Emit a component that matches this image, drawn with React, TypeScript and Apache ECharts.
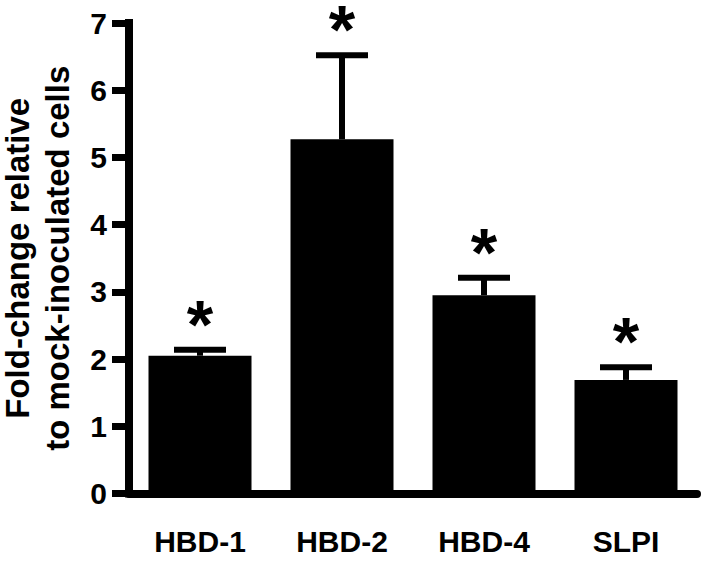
import React, { useEffect, useRef } from "react";
import * as echarts from "echarts";

const categories = ["HBD-1", "HBD-2", "HBD-4", "SLPI"];
const means = [2.05, 5.27, 2.95, 1.69];
const upper = [2.14, 6.52, 3.21, 1.88];
const marks = ["*", "*", "*", "*"];
const yTicks = [0, 1, 2, 3, 4, 5, 6, 7];

const FONT = "'Liberation Sans', Arial, sans-serif";

export default function App() {
  const ref = useRef<HTMLDivElement>(null);
  useEffect(() => {
    if (!ref.current) return;
    const chart = echarts.init(ref.current, null, { renderer: "svg" });
    const errData = categories.map((c, i) => [i, means[i], upper[i]]);
    chart.setOption({
      animation: false,
      grid: { left: 129, right: 7, top: 23, bottom: 69.5, containLabel: false, outerBoundsMode: "none" },
      xAxis: {
        type: "category",
        data: categories,
        axisLine: { lineStyle: { color: "#000", width: 8 } },
        axisTick: { alignWithLabel: true, length: 16, lineStyle: { color: "#000", width: 7 } },
        axisLabel: { color: "#000", fontFamily: FONT, fontWeight: "bold", fontSize: 30, margin: 33 },
      },
      yAxis: {
        type: "value",
        min: yTicks[0],
        max: yTicks[yTicks.length - 1],
        interval: 1,
        splitLine: { show: false },
        axisLine: { show: true, lineStyle: { color: "#000", width: 8, cap: "square" } },
        axisTick: { show: true, length: 17, lineStyle: { color: "#000", width: 7 } },
        axisLabel: { color: "#000", fontFamily: FONT, fontWeight: "bold", fontSize: 30, margin: 22 },
        name: "Fold-change relative\nto mock-inoculated cells",
        nameLocation: "middle",
        nameRotate: 90,
        nameGap: 52,
        nameTextStyle: { color: "#000", fontFamily: FONT, fontWeight: "bold", fontSize: 33, lineHeight: 40 },
      },
      series: [
        {
          type: "bar",
          data: means,
          barWidth: 103,
          itemStyle: { color: "#000" },
        },
        {
          type: "custom",
          data: errData,
          renderItem: (params: any, api: any) => {
            const x = api.value(0);
            const top = api.coord([x, api.value(1)]);
            const hi = api.coord([x, api.value(2)]);
            const idx = params.dataIndex;
            return {
              type: "group",
              children: [
                { type: "line", shape: { x1: top[0], y1: top[1], x2: hi[0], y2: hi[1] }, style: { stroke: "#000", lineWidth: 6 } },
                { type: "line", shape: { x1: hi[0] - 26, y1: hi[1], x2: hi[0] + 26, y2: hi[1] }, style: { stroke: "#000", lineWidth: 6 } },
                {
                  type: "text",
                  style: {
                    text: marks[idx],
                    x: hi[0],
                    y: hi[1] - 26,
                    align: "center",
                    verticalAlign: "middle",
                    fill: "#000",
                    font: `bold 68px ${FONT}`,
                    lineHeight: 20,
                  },
                },
              ],
            };
          },
        },
      ],
    });
    return () => chart.dispose();
  }, []);
  return <div ref={ref} style={{ width: 704, height: 563, position: "absolute", left: 0, top: 0 }} />;
}
